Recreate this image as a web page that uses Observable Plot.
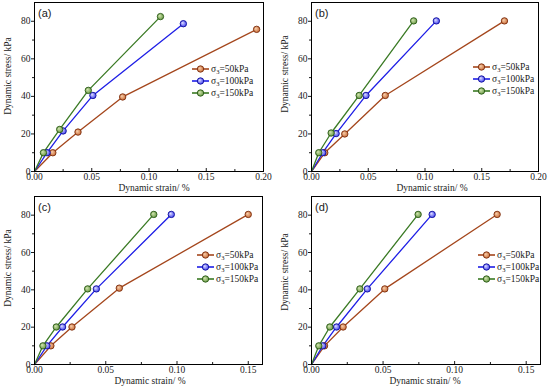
<!DOCTYPE html>
<html><head><meta charset="utf-8">
<script src="https://cdn.jsdelivr.net/npm/d3@7"></script>
<script src="https://cdn.jsdelivr.net/npm/@observablehq/plot@0.6"></script>
<style>
body{margin:0;background:#fff;}
#grid{position:relative;width:550px;height:388px;display:grid;grid-template-columns:275px 275px;grid-template-rows:194px 194px;overflow:hidden;}
.panel{position:relative;width:275px;height:194px;}
.panel > svg{display:block;}
.legend{position:absolute;left:0;top:0;pointer-events:none;}
</style></head><body>
<svg width="0" height="0" style="position:absolute"><defs>
<radialGradient id="g0" cx="0.5" cy="0.5" r="0.6" fx="0.35" fy="0.35"><stop offset="0" stop-color="#f8d2b0"/><stop offset="1" stop-color="#c45e26"/></radialGradient>
<radialGradient id="g1" cx="0.5" cy="0.5" r="0.6" fx="0.35" fy="0.35"><stop offset="0" stop-color="#e4e4ff"/><stop offset="1" stop-color="#2a2aee"/></radialGradient>
<radialGradient id="g2" cx="0.5" cy="0.5" r="0.6" fx="0.35" fy="0.35"><stop offset="0" stop-color="#d6e8b4"/><stop offset="1" stop-color="#5a8e36"/></radialGradient>
</defs></svg>
<div id="grid"></div>
<script>
// ---------- data ----------
const panelLabels = ["(a)", "(b)", "(c)", "(d)"];
const seriesNames = ["50kPa", "100kPa", "150kPa"];
const xLabel = "Dynamic strain/ %";
const yLabel = "Dynamic stress/ kPa";
const yTicks = [0, 20, 40, 60, 80];
const yMinorTicks = [10, 30, 50, 70];
const xTicksWide = [0, 0.05, 0.10, 0.15, 0.20];
const xMinorWide = [0.025, 0.075, 0.125, 0.175];
const xTicksNarrow = [0, 0.05, 0.10, 0.15];
const xMinorNarrow = [0.025, 0.075, 0.125];

// (a)
const strainA50  = [0, 0.016, 0.038, 0.077, 0.194];
const stressA50  = [0, 10, 21, 39.7, 75.7];
const strainA100 = [0, 0.011, 0.025, 0.051, 0.130];
const stressA100 = [0, 10, 21.6, 40.5, 78.7];
const strainA150 = [0, 0.0078, 0.022, 0.047, 0.110];
const stressA150 = [0, 10, 22.4, 43.2, 82.5];
// (b)
const strainB50  = [0, 0.0117, 0.0293, 0.065, 0.170];
const stressB50  = [0, 10, 20, 40.5, 80.2];
const strainB100 = [0, 0.0099, 0.0217, 0.048, 0.110];
const stressB100 = [0, 10, 20.2, 40.5, 80.2];
const strainB150 = [0, 0.0064, 0.0173, 0.042, 0.090];
const stressB150 = [0, 10, 20.5, 40.5, 80.2];
// (c)
const strainC50  = [0, 0.0115, 0.0263, 0.0595, 0.150];
const stressC50  = [0, 10, 20.1, 40.9, 80.4];
const strainC100 = [0, 0.0087, 0.0197, 0.0434, 0.096];
const stressC100 = [0, 10, 20.1, 40.5, 80.4];
const strainC150 = [0, 0.0059, 0.0153, 0.0373, 0.0837];
const stressC150 = [0, 10, 20.1, 40.5, 80.4];
// (d)
const strainD50  = [0, 0.0091, 0.0221, 0.0512, 0.1297];
const stressD50  = [0, 10, 20.1, 40.5, 80.4];
const strainD100 = [0, 0.0079, 0.0175, 0.039, 0.0843];
const stressD100 = [0, 10, 20.1, 40.5, 80.4];
const strainD150 = [0, 0.0051, 0.0128, 0.0338, 0.0745];
const stressD150 = [0, 10, 20.1, 40.5, 80.4];

// ---------- styling / layout ----------
const lineColors = ["#a4461c", "#1e1ee6", "#3a7a24"];
const dotFills = ["url(#g0)", "url(#g1)", "url(#g2)"];
const dotStrokes = ["#7a2e0e", "#10109a", "#2a5a16"];
const textColor = "#1a1a1a";
const serif = "'Liberation Serif', 'Times New Roman', serif";
const sans = "'Liberation Sans', Arial, sans-serif";

const panels = [
  {xMax: 0.20, xt: xTicksWide, xm: xMinorWide, ml: 34, mr: 12, mb: 23, strain: [strainA50, strainA100, strainA150], stress: [stressA50, stressA100, stressA150], leg: {x: 192, y: 69}, xl: {x: 154, y: 188}, yl: {x: 8, y: 76}},
  {xMax: 0.20, xt: xTicksWide, xm: xMinorWide, ml: 36, mr: 12, mb: 23, strain: [strainB50, strainB100, strainB150], stress: [stressB50, stressB100, stressB150], leg: {x: 198, y: 67}, xl: {x: 157, y: 188}, yl: {x: 10, y: 74}},
  {xMax: 0.16, xt: xTicksNarrow, xm: xMinorNarrow, ml: 34, mr: 13, mb: 24, strain: [strainC50, strainC100, strainC150], stress: [stressC50, stressC100, stressC150], leg: {x: 197, y: 61}, xl: {x: 150, y: 187}, yl: {x: 8, y: 74}},
  {xMax: 0.16, xt: xTicksNarrow, xm: xMinorNarrow, ml: 36, mr: 10, mb: 24, strain: [strainD50, strainD100, strainD150], stress: [stressD50, stressD100, stressD150], leg: {x: 203, y: 61}, xl: {x: 150, y: 187}, yl: {x: 10, y: 78}}
];

const grid = document.getElementById("grid");
panels.forEach((p, pi) => {
  const rows = [];
  p.strain.forEach((xs, si) => xs.forEach((x, k) => rows.push({s: si, x, y: p.stress[si][k]})));
  const marks = [];
  for (let si = 0; si < 3; si++) {
    const d = rows.filter(r => r.s === si);
    marks.push(Plot.line(d, {x: "x", y: "y", stroke: lineColors[si], strokeWidth: 1.3}));
  }
  for (let si = 0; si < 3; si++) {
    const d = rows.filter(r => r.s === si && r.y > 0);
    marks.push(Plot.dot(d, {x: "x", y: "y", r: 3.2, fill: dotFills[si], stroke: dotStrokes[si], strokeWidth: 0.9}));
  }
  const chart = Plot.plot({
    width: 275, height: 194,
    marginTop: 2, marginBottom: p.mb, marginLeft: p.ml, marginRight: p.mr,
    style: {fontFamily: serif, fontSize: "9.5px", color: textColor, background: "transparent"},
    x: {domain: [0, p.xMax]},
    y: {domain: [0, 90]},
    marks: [
      Plot.axisY({ticks: yTicks, tickSize: 3, tickPadding: 1, label: null, fontSize: 9.5}),
      Plot.axisY({ticks: yMinorTicks, tickSize: 2, tickFormat: () => "", label: null}),
      Plot.axisX({ticks: p.xt, tickSize: 0, tickPadding: 2, tickFormat: d3.format(".2f"), label: null, fontSize: 9.5}),
      Plot.axisX({ticks: p.xt, tickSize: -3, tickFormat: () => "", label: null}),
      Plot.axisX({ticks: p.xm, tickSize: -2, tickFormat: () => "", label: null}),
      ...marks,
      Plot.frame({stroke: "#000", strokeWidth: 1})
    ]
  });
  const div = document.createElement("div");
  div.className = "panel";
  div.appendChild(chart);
  // overlay: axis titles, panel label, legend
  const ov = d3.create("svg").attr("class", "legend").attr("width", 275).attr("height", 194);
  ov.append("text").attr("x", p.xl.x).attr("y", p.xl.y).attr("dy", "0.32em")
    .attr("text-anchor", "middle").attr("font-family", serif).attr("font-size", 9.5).attr("fill", textColor).text(xLabel);
  ov.append("text").attr("transform", `translate(${p.yl.x},${p.yl.y}) rotate(-90)`).attr("dy", "0.32em")
    .attr("text-anchor", "middle").attr("font-family", serif).attr("font-size", 9.5).attr("fill", textColor).text(yLabel);
  ov.append("text").attr("x", p.ml + 4).attr("y", 13.5).attr("dy", "0.35em")
    .attr("font-family", sans).attr("font-size", 11).attr("fill", textColor).text(panelLabels[pi]);
  seriesNames.forEach((name, si) => {
    const y = p.leg.y + si * 12;
    const g = ov.append("g");
    g.append("line").attr("x1", p.leg.x).attr("x2", p.leg.x + 17).attr("y1", y).attr("y2", y)
      .attr("stroke", lineColors[si]).attr("stroke-width", 1.6);
    g.append("circle").attr("cx", p.leg.x + 8.5).attr("cy", y).attr("r", 3.2)
      .attr("fill", dotFills[si]).attr("stroke", dotStrokes[si]).attr("stroke-width", 0.9);
    const t = g.append("text").attr("x", p.leg.x + 19).attr("y", y).attr("dy", "0.32em")
      .attr("font-family", serif).attr("font-size", 9.5).attr("fill", textColor);
    t.append("tspan").text("σ");
    t.append("tspan").attr("font-size", 6.5).attr("dy", "0.35em").text("3");
    t.append("tspan").attr("dy", "-0.25em").text("=" + name);
  });
  div.appendChild(ov.node());
  grid.appendChild(div);
});
</script>
</body></html>
